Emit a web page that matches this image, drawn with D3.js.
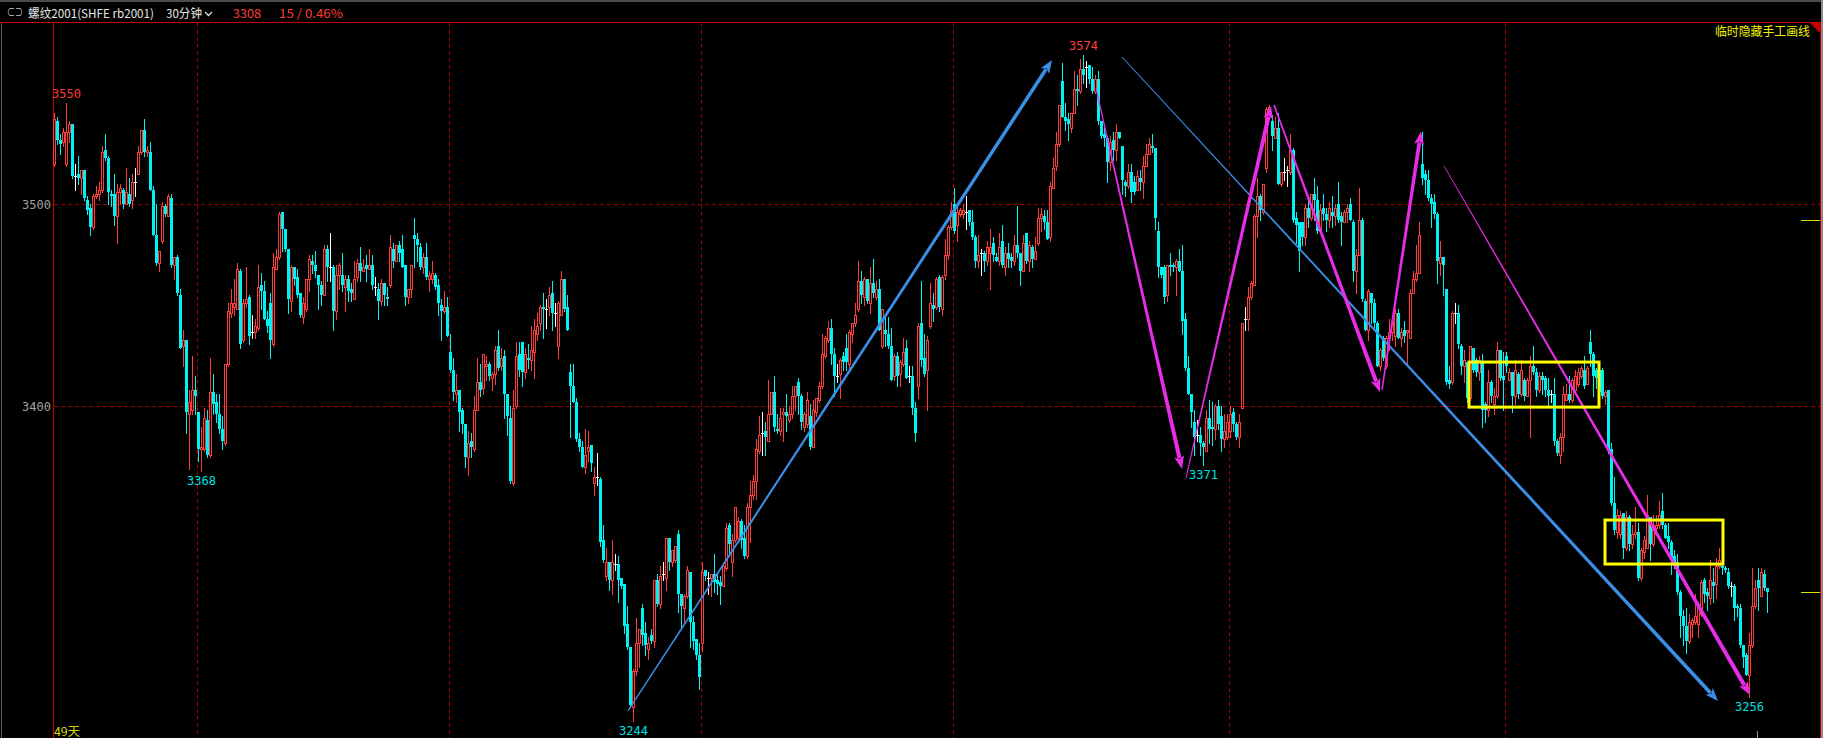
<!DOCTYPE html>
<html><head><meta charset="utf-8">
<script src="https://cdn.jsdelivr.net/npm/d3@7"></script>
<style>html,body{margin:0;padding:0;background:#000;overflow:hidden}</style>
</head><body>
<svg id="c" width="1823" height="738"></svg>
<script>
// ---- data: 30-minute bars, each [open, high, low, close], grouped by period ----
const week1 = [
[3520,3545,3519,3542],[3541,3543,3530,3532],[3532,3535,3525,3530],[3531,3538,3529,3536],[3520,3550,3519,3536],[3536,3541,3531,3540],
[3540,3540,3513,3514],[3514,3520,3507,3514],[3515,3524,3510,3513],[3513,3517,3505,3517],[3517,3517,3502,3503],[3502,3504,3495,3497],
[3498,3500,3485,3489],[3489,3505,3488,3504],[3504,3509,3503,3505],[3505,3511,3502,3507],[3507,3529,3506,3526],[3527,3535,3522,3523],
[3523,3524,3500,3506],[3505,3507,3499,3504],[3505,3515,3490,3494],[3494,3510,3481,3506],[3506,3510,3500,3508],[3507,3508,3498,3500],
[3500,3518,3500,3506],[3505,3513,3499,3500],[3502,3515,3498,3511],[3511,3518,3504,3511],[3515,3529,3515,3526],[3526,3537,3525,3537],
[3537,3542,3524,3526],[3526,3529,3524,3527],[3526,3531,3507,3507],[3507,3509,3485,3485],[3485,3500,3470,3471],[3471,3477,3467,3477],
[3482,3501,3481,3499],[3499,3500,3494,3495],[3494,3505,3494,3504],[3503,3505,3469,3470],[3470,3474,3463,3474],[3474,3475,3455,3456],
[3455,3458,3429,3429],[3430,3438,3420,3433],[3433,3433,3387,3397],[3396,3408,3369,3402],[3398,3425,3396,3408],[3408,3415,3396,3405]];
const week2 = [
[3397,3397,3373,3379],[3379,3390,3368,3380],[3379,3399,3378,3394],[3393,3398,3375,3376],[3376,3424,3375,3407],[3407,3416,3396,3401],
[3402,3406,3392,3396],[3396,3406,3387,3389],[3389,3395,3379,3383],[3382,3421,3381,3421],[3421,3451,3420,3447],[3446,3458,3444,3451],
[3449,3463,3445,3451],[3448,3471,3448,3468],[3467,3468,3429,3431],[3433,3453,3432,3451],[3451,3469,3449,3453],[3454,3455,3431,3435],
[3437,3445,3434,3437],[3437,3443,3434,3440],[3439,3470,3438,3459],[3460,3466,3448,3457],[3457,3462,3443,3443],[3443,3447,3437,3440],
[3451,3456,3424,3433],[3431,3476,3430,3469],[3468,3478,3468,3474],[3474,3496,3473,3495],[3496,3496,3477,3488],[3488,3488,3477,3478],
[3478,3478,3446,3453],[3452,3470,3447,3469],[3469,3469,3460,3463],[3464,3468,3454,3455],[3456,3456,3444,3445],[3444,3454,3441,3451],
[3448,3463,3447,3463],[3463,3475,3457,3473],[3472,3475,3466,3470],[3470,3477,3464,3467],[3465,3465,3448,3460],[3460,3462,3450,3455],
[3455,3480,3455,3478],[3478,3480,3462,3469],[3469,3486,3462,3469],[3469,3470,3438,3447],[3447,3470,3443,3465],[3465,3471,3458,3470],
[3465,3476,3457,3460],[3459,3465,3447,3463],[3463,3465,3452,3457],[3458,3461,3452,3456],[3453,3472,3453,3463],[3464,3473,3462,3471],
[3471,3479,3462,3467],[3467,3473,3467,3469],[3470,3475,3462,3468],[3468,3478,3468,3470],[3470,3475,3458,3460],[3459,3464,3455,3459],
[3458,3461,3443,3452],[3452,3463,3450,3461],[3461,3461,3450,3455],[3454,3459,3450,3453],[3460,3485,3459,3479],[3478,3481,3469,3472],
[3472,3480,3472,3480],[3480,3482,3472,3476],[3478,3485,3469,3469],[3470,3470,3450,3454],[3454,3458,3451,3458],[3458,3470,3454,3470],
[3485,3493,3469,3483],[3483,3486,3472,3480],[3479,3481,3468,3469],[3469,3476,3466,3474],[3474,3481,3463,3464],[3463,3467,3457,3465],
[3463,3472,3461,3466],[3465,3466,3458,3459],[3460,3463,3445,3451],[3450,3453,3433,3447],[3447,3457,3446,3449],[3449,3454,3435,3435]];
const week3 = [
[3427,3436,3417,3418],[3418,3424,3403,3407],[3406,3416,3402,3408],[3408,3408,3388,3397],[3398,3399,3387,3391],[3391,3391,3370,3375],
[3375,3388,3366,3382],[3383,3387,3375,3380],[3379,3405,3378,3398],[3398,3424,3398,3412],[3412,3421,3405,3408],[3409,3426,3406,3426],
[3420,3425,3413,3421],[3421,3422,3413,3415],[3414,3417,3408,3416],[3416,3430,3411,3428],[3430,3438,3418,3419],[3420,3429,3418,3424],
[3425,3428,3394,3406],[3406,3406,3386,3395],[3394,3400,3362,3363],[3362,3408,3361,3399],[3400,3432,3399,3425],[3426,3432,3415,3418],
[3432,3432,3410,3417],[3417,3429,3414,3426],[3424,3431,3419,3423],[3423,3440,3418,3428],[3427,3443,3414,3438],[3436,3446,3433,3440],
[3441,3450,3438,3449],[3449,3456,3434,3448],[3448,3453,3439,3448],[3449,3459,3445,3455],[3456,3462,3438,3446],[3446,3451,3440,3446],
[3430,3452,3424,3451],[3445,3467,3445,3463],[3463,3463,3447,3448],[3449,3455,3438,3438],[3417,3421,3385,3410],[3410,3421,3402,3402],
[3402,3404,3383,3384],[3384,3387,3378,3380],[3380,3383,3370,3370],[3370,3389,3367,3376],[3378,3388,3373,3380],[3381,3381,3368,3372],
[3362,3370,3356,3365],[3365,3377,3361,3365],[3364,3365,3331,3333],[3334,3341,3323,3324],[3316,3330,3314,3323],[3323,3323,3309,3314],
[3314,3334,3307,3323],[3322,3327,3319,3322],[3322,3326,3303,3314],[3315,3315,3310,3311],[3312,3312,3288,3291],[3292,3301,3280,3281],
[3281,3281,3251,3252],[3251,3270,3244,3269],[3269,3295,3267,3283],[3283,3290,3271,3290],[3300,3302,3282,3287],[3288,3293,3277,3282],
[3280,3286,3275,3283],[3287,3290,3283,3284],[3284,3314,3281,3314],[3314,3317,3301,3302],[3302,3321,3300,3316],[3317,3323,3314,3317],
[3315,3335,3309,3335],[3335,3335,3319,3323],[3323,3329,3321,3329],[3324,3331,3323,3331],[3337,3339,3298,3307],[3307,3307,3290,3301],
[3300,3307,3293,3306],[3306,3321,3305,3319],[3318,3318,3281,3293],[3293,3296,3280,3284],[3285,3285,3275,3277],[3277,3283,3260,3266]];
const week4 = [
[3283,3323,3279,3318],[3319,3319,3314,3316],[3315,3318,3307,3315],[3315,3317,3306,3317],[3317,3327,3308,3313],[3314,3317,3307,3312],
[3313,3316,3302,3311],[3311,3321,3311,3321],[3320,3342,3319,3340],[3341,3342,3326,3332],[3323,3337,3316,3334],[3334,3350,3333,3350],
[3335,3345,3333,3343],[3343,3344,3330,3334],[3335,3341,3325,3326],[3326,3352,3325,3350],[3350,3363,3333,3356],[3356,3366,3354,3363],
[3363,3384,3354,3379],[3378,3395,3377,3386],[3387,3397,3376,3387],[3388,3392,3376,3385],[3383,3413,3383,3396],[3396,3407,3396,3407],
[3407,3415,3388,3390],[3389,3396,3387,3388],[3388,3399,3386,3394],[3396,3399,3383,3397],[3397,3406,3388,3395],[3393,3400,3392,3396],
[3396,3410,3394,3405],[3405,3410,3398,3410],[3412,3414,3396,3405],[3405,3406,3389,3392],[3390,3397,3388,3396],[3391,3407,3390,3403],
[3395,3401,3379,3380],[3380,3403,3380,3398],[3397,3404,3395,3404],[3403,3412,3402,3410],[3410,3436,3409,3426],[3425,3435,3424,3434],
[3433,3442,3432,3439],[3439,3443,3421,3426],[3426,3429,3405,3415],[3415,3421,3412,3415],[3416,3424,3404,3423],[3425,3427,3418,3422],
[3429,3436,3418,3422],[3421,3438,3417,3437],[3436,3441,3432,3441],[3441,3451,3440,3445],[3448,3472,3447,3462],[3462,3467,3451,3455],
[3454,3464,3450,3463],[3463,3463,3451,3452],[3451,3469,3446,3461],[3461,3473,3454,3456],[3454,3462,3453,3458],[3458,3463,3438,3438],
[3430,3448,3429,3448],[3438,3444,3430,3436],[3436,3444,3429,3430],[3430,3439,3413,3413],[3415,3426,3413,3425],[3425,3427,3410,3415],
[3416,3423,3410,3422],[3421,3434,3420,3427],[3429,3433,3414,3414],[3415,3420,3412,3415],[3415,3420,3396,3399],[3399,3402,3383,3387],
[3410,3441,3404,3440],[3441,3462,3420,3423],[3424,3436,3415,3416],[3418,3435,3398,3433],[3440,3461,3439,3451],[3450,3456,3442,3448],
[3449,3464,3448,3463],[3464,3465,3447,3449],[3448,3465,3445,3464],[3465,3483,3463,3475],[3475,3490,3473,3489],[3489,3501,3488,3497]];
const week5 = [
[3500,3508,3486,3487],[3490,3499,3482,3496],[3495,3498,3494,3497],[3495,3500,3493,3497],[3496,3504,3488,3496],[3497,3497,3490,3491],
[3491,3497,3483,3484],[3484,3485,3469,3472],[3472,3485,3469,3475],[3476,3478,3465,3476],[3476,3477,3467,3472],[3472,3482,3470,3479],
[3476,3488,3458,3479],[3481,3484,3472,3475],[3474,3476,3472,3472],[3472,3486,3470,3479],[3482,3490,3469,3470],[3469,3479,3465,3476],
[3476,3481,3469,3473],[3474,3476,3469,3472],[3472,3485,3470,3480],[3480,3499,3474,3476],[3476,3476,3460,3467],[3467,3485,3467,3481],
[3486,3486,3471,3472],[3472,3482,3467,3480],[3479,3480,3469,3473],[3473,3484,3473,3477],[3481,3498,3480,3493],[3493,3498,3487,3495],
[3494,3497,3488,3491],[3491,3497,3483,3483],[3484,3511,3482,3509],[3508,3523,3508,3518],[3519,3536,3517,3530],[3530,3549,3529,3549],
[3561,3570,3543,3543],[3543,3550,3537,3541],[3542,3545,3532,3540],[3538,3545,3536,3545],[3545,3566,3545,3557],[3557,3564,3549,3556],
[3556,3572,3555,3567],[3567,3574,3560,3564],[3568,3571,3558,3568],[3569,3569,3560,3562],[3562,3568,3555,3556],[3556,3564,3555,3562],
[3562,3566,3540,3541],[3541,3541,3533,3534],[3535,3540,3529,3533],[3533,3534,3511,3521],[3521,3534,3517,3531],[3532,3536,3522,3527],
[3527,3540,3522,3536],[3536,3536,3533,3533],[3529,3529,3505,3512],[3511,3512,3504,3509],[3509,3520,3508,3516],[3516,3520,3501,3506],
[3511,3514,3505,3506],[3507,3517,3507,3514],[3513,3517,3507,3511],[3511,3524,3503,3519],[3519,3530,3519,3525],[3525,3533,3525,3530],
[3529,3535,3526,3528],[3528,3528,3488,3493],[3487,3491,3464,3469],[3469,3469,3464,3465],[3469,3470,3451,3454],[3455,3470,3452,3470],
[3470,3476,3465,3469],[3470,3471,3467,3469],[3469,3473,3455,3472],[3472,3478,3467,3467],[3467,3480,3436,3442],[3443,3446,3418,3419],
[3419,3425,3406,3406],[3406,3406,3390,3397],[3392,3398,3376,3385],[3386,3393,3383,3386],[3386,3390,3376,3382],[3382,3383,3371,3380],
[3378,3398,3378,3394],[3394,3403,3382,3389],[3390,3402,3381,3389],[3389,3401,3384,3400],[3400,3403,3389,3391],[3395,3400,3378,3384],
[3384,3396,3380,3388],[3385,3396,3384,3392]];
const week6 = [
[3388,3400,3385,3396],[3397,3399,3388,3391],[3391,3392,3384,3385],[3385,3396,3380,3392],[3399,3441,3399,3441],[3443,3449,3438,3443],
[3443,3459,3438,3454],[3454,3462,3453,3461],[3460,3495,3460,3494],[3494,3513,3484,3504],[3504,3505,3492,3497],[3496,3510,3495,3510],
[3518,3548,3516,3547],[3546,3549,3545,3548],[3541,3544,3527,3534],[3533,3543,3533,3538],[3538,3545,3510,3510],[3510,3516,3509,3516],
[3516,3523,3512,3516],[3517,3519,3509,3517],[3516,3535,3515,3527],[3527,3528,3491,3492],[3493,3496,3481,3490],[3491,3491,3467,3477],
[3491,3491,3480,3484],[3484,3500,3480,3498],[3498,3503,3489,3493],[3493,3505,3492,3505],[3505,3513,3492,3502],[3502,3509,3486,3487],
[3487,3500,3486,3497],[3498,3505,3492,3495],[3495,3498,3487,3492],[3492,3501,3489,3498],[3496,3504,3489,3494],[3494,3500,3490,3498],
[3500,3511,3491,3492],[3494,3496,3480,3491],[3491,3497,3491,3496],[3496,3500,3491,3498],[3500,3503,3492,3492],[3491,3492,3462,3467],
[3467,3478,3456,3475],[3475,3508,3475,3492],[3492,3493,3452,3453],[3452,3453,3438,3438],[3438,3458,3433,3457],[3456,3456,3441,3451],
[3451,3453,3438,3441],[3441,3442,3420,3420],[3420,3429,3418,3428],[3434,3435,3423,3424],[3420,3435,3419,3434],[3434,3443,3428,3437],
[3437,3443,3433,3442],[3435,3448,3430,3446],[3446,3448,3434,3434],[3434,3439,3430,3437],[3438,3442,3432,3435],[3437,3438,3421,3438],
[3434,3458,3434,3456],[3456,3467,3456,3463],[3463,3480,3462,3466],[3466,3491,3466,3485],[3520,3536,3510,3513],[3515,3517,3505,3512],
[3512,3517,3502,3503],[3503,3505,3489,3500],[3501,3505,3493,3495],[3495,3496,3461,3472],[3471,3482,3465,3474],[3474,3474,3455,3470],
[3458,3458,3411,3412],[3413,3420,3409,3411],[3412,3447,3411,3446],[3446,3451,3441,3446],[3446,3450,3429,3431],[3430,3431,3416,3420],
[3420,3428,3412,3423],[3422,3422,3402,3404],[3404,3430,3403,3430],[3429,3429,3417,3418],[3423,3424,3415,3417],[3417,3425,3413,3423],
[3422,3426,3390,3398],[3401,3402,3392,3398],[3398,3418,3395,3412],[3412,3413,3402,3405],[3401,3409,3396,3405],[3405,3432,3404,3428],
[3428,3428,3413,3414],[3415,3427,3398,3413]];
const week7 = [
[3425,3427,3417,3420],[3413,3419,3413,3417],[3417,3417,3397,3405],[3405,3423,3401,3418],[3416,3417,3404,3406],[3406,3423,3405,3418],
[3413,3414,3403,3405],[3405,3414,3405,3413],[3413,3425,3385,3420],[3420,3430,3416,3417],[3417,3419,3405,3408],[3408,3417,3407,3415],
[3415,3417,3406,3413],[3414,3415,3405,3408],[3408,3414,3400,3405],[3406,3408,3402,3406],[3406,3414,3381,3383],[3383,3384,3376,3377],
[3376,3387,3372,3385],[3385,3410,3378,3406],[3403,3411,3403,3406],[3406,3415,3402,3403],[3403,3414,3402,3413],[3408,3418,3406,3415],
[3411,3419,3410,3417],[3415,3420,3414,3419],[3418,3425,3409,3410],[3411,3420,3411,3419],[3432,3438,3420,3426],[3426,3427,3405,3415],
[3418,3419,3409,3414],[3418,3419,3405,3407],[3418,3419,3404,3405],[3405,3408,3401,3407],[3408,3408,3377,3378],[3379,3382,3351,3352],
[3352,3365,3337,3339],[3338,3349,3335,3346],[3337,3348,3335,3346],[3347,3347,3325,3330],[3330,3348,3329,3345],[3345,3346,3329,3332],
[3332,3341,3330,3337],[3337,3350,3335,3338],[3338,3342,3314,3315],[3315,3330,3314,3329],[3328,3336,3325,3334],[3330,3356,3330,3346],
[3345,3345,3324,3332],[3332,3346,3331,3341],[3340,3346,3339,3341],[3341,3353,3340,3346],[3348,3357,3340,3341],[3341,3342,3335,3335],
[3336,3342,3330,3333],[3333,3334,3317,3325],[3326,3329,3320,3322],[3323,3327,3307,3308],[3308,3309,3286,3296],[3296,3299,3282,3291],
[3291,3300,3278,3284],[3284,3297,3283,3293],[3292,3295,3286,3294],[3293,3307,3292,3296],[3292,3303,3286,3302],[3297,3314,3296,3313],
[3314,3315,3303,3307],[3308,3310,3299,3306],[3305,3324,3302,3314],[3313,3320,3303,3311],[3312,3325,3305,3321],[3321,3330,3320,3324],
[3321,3322,3317,3320],[3320,3321,3318,3319],[3318,3320,3310,3311],[3311,3313,3306,3311],[3311,3312,3294,3300],[3301,3302,3296,3300],
[3300,3302,3281,3282],[3282,3282,3271,3276],[3277,3278,3267,3267],[3267,3288,3256,3282],[3282,3320,3281,3301],[3301,3314,3300,3310],
[3314,3320,3299,3310],[3306,3320,3306,3318],[3317,3319,3309,3310],[3310,3310,3298,3308]];

const yTicks = [3400, 3500];
const periodStarts = [48, 132, 216, 300, 392, 484];         // first bar of each new period
const extremeBars = [[4,'high'],[343,'high'],[49,'low'],[193,'low'],[383,'low'],[565,'low']];
const titleParts = ['螺纹2001(SHFE rb2001)', '30分钟', '3308', '15 / 0.46%'];
const sideNote = '临时隐藏手工画线';
const spanLabel = '49天';
// hand-drawn annotations in (bar index, price) space
const blueArrows = [
  {from:[191.33,3249.2], to:[332.67,3571.4], w:[1.3,3.6]},
  {from:[356.0,3572.9],  to:[554.67,3254.1], w:[0.9,3.8]}
];
const pinkArrows = [
  {from:[347.33,3557.5], to:[376.0,3368.9],  w:[1.0,4.2]},
  {from:[377.33,3364.5], to:[405.67,3548.7], w:[1.0,4.2]},
  {from:[406.67,3549.2], to:[442.0,3407.1],  w:[1.6,4.2]},
  {from:[442.67,3408.1], to:[455.67,3536.0], w:[1.5,3.8]},
  {from:[463.33,3519.0], to:[565.33,3257.1], w:[0.8,4.2]}
];
const boxes = [
  {from:[471.67,3421.9], to:[515.0,3399.6]},
  {from:[517.0,3343.7],  to:[556.33,3321.9]}
];

// ---- drawing ----
const W = 1823, H = 738;
const svg = d3.select('#c');
svg.append('rect').attr('width', W).attr('height', H).attr('fill', '#000');

const bars = [week1, week2, week3, week4, week5, week6, week7].flat()
  .map((d, i) => ({i, o: d[0], h: d[1], l: d[2], c: d[3]}));

const x = d3.scaleLinear().domain([0, bars.length - 1]).range([54, 54 + 3 * (bars.length - 1)]);
const y = d3.scaleLinear().domain([3400, 3500]).range([406.3, 204.3]);
const px = v => Math.round(x(v));
const py = v => Math.round(y(v));

const GRID = '#9a0000', AXIS = '#c80000';
const UP = '#ff3c3c', DN = '#00f2f2', EQ = '#ffffff';

// frame
svg.append('rect').attr('x', 0).attr('y', 0).attr('width', W).attr('height', 2).attr('fill', '#4a4a4a');
svg.append('line').attr('x1', 0).attr('x2', W).attr('y1', 22.5).attr('y2', 22.5).attr('stroke', AXIS);
svg.append('line').attr('x1', 1.5).attr('x2', 1.5).attr('y1', 23).attr('y2', H).attr('stroke', '#5a5a5a');
svg.append('line').attr('x1', 53.5).attr('x2', 53.5).attr('y1', 23).attr('y2', H).attr('stroke', AXIS);
svg.append('line').attr('x1', 1820.5).attr('x2', 1820.5).attr('y1', 23).attr('y2', H).attr('stroke', AXIS);
svg.append('rect').attr('x', 1821).attr('y', 0).attr('width', 2).attr('height', H).attr('fill', '#8a8a8a');
svg.append('polygon').attr('points', '1810,23 1820,23 1820,33').attr('fill', AXIS);

// grid
svg.append('g').selectAll('line').data(yTicks).join('line')
  .attr('x1', 54).attr('x2', 1820).attr('y1', d => py(d) + 0.5).attr('y2', d => py(d) + 0.5)
  .attr('stroke', GRID).attr('stroke-dasharray', '4,3');
svg.append('g').selectAll('line').data(periodStarts).join('line')
  .attr('x1', d => Math.round(x(d) - 1.5) + 0.5).attr('x2', d => Math.round(x(d) - 1.5) + 0.5)
  .attr('y1', 23).attr('y2', H)
  .attr('stroke', GRID).attr('stroke-dasharray', '4,3');

// y axis labels
svg.append('g').selectAll('text').data(yTicks).join('text')
  .attr('x', 51).attr('y', d => py(d) + 4.5).attr('text-anchor', 'end')
  .attr('fill', '#a0a0a0').attr('font-family', 'DejaVu Sans Mono, monospace').attr('font-size', 12)
  .text(d => d);

// candles
const cg = svg.append('g');
cg.selectAll('g').data(bars).join('g').each(function (d) {
  const s = d3.select(this);
  const cx = px(d.i);
  const yh = py(d.h), yl = py(d.l), yo = py(d.o), yc = py(d.c);
  const top = Math.min(yo, yc), bot = Math.max(yo, yc);
  const col = d.c > d.o ? UP : (d.c < d.o ? DN : EQ);
  const wick = (a, b) => { if (b > a) s.append('line').attr('x1', cx + 0.5).attr('x2', cx + 0.5).attr('y1', a).attr('y2', b).attr('stroke', col); };
  if (d.c > d.o) {
    wick(yh, top); wick(bot + 1, yl + 1);
    if (bot - top >= 2) {
      s.append('rect').attr('x', cx - 0.5).attr('y', top + 0.5).attr('width', 2).attr('height', bot - top)
        .attr('fill', 'none').attr('stroke', col);
    } else {
      s.append('rect').attr('x', cx - 1).attr('y', top).attr('width', 3).attr('height', bot - top + 1).attr('fill', col);
    }
  } else if (d.c < d.o) {
    wick(yh, yl + 1);
    s.append('rect').attr('x', cx - 1).attr('y', top).attr('width', 3).attr('height', Math.max(bot - top, 1)).attr('fill', col);
  } else {
    wick(yh, yl + 1);
    s.append('rect').attr('x', cx - 1).attr('y', top).attr('width', 3).attr('height', 1).attr('fill', col);
  }
});

// extreme labels
svg.append('g').selectAll('text').data(extremeBars).join('text')
  .attr('x', d => px(d[0]) + 0.5)
  .attr('y', d => d[1] === 'high' ? py(bars[d[0]].h) - 5 : py(bars[d[0]].l) + 14)
  .attr('text-anchor', 'middle')
  .attr('fill', d => d[1] === 'high' ? '#ff3c3c' : '#00e0e0')
  .attr('font-family', 'DejaVu Sans Mono, monospace').attr('font-size', 12)
  .text(d => d[1] === 'high' ? bars[d[0]].h : bars[d[0]].l);

// annotations
function taper(a, color) {
  const x1 = x(a.from[0]), y1 = y(a.from[1]), x2 = x(a.to[0]), y2 = y(a.to[1]);
  const dx = x2 - x1, dy = y2 - y1, L = Math.hypot(dx, dy);
  const ux = dx / L, uy = dy / L, nx = -uy, ny = ux;
  const hl = 13, hw = 10;
  const bx = x2 - ux * hl, by = y2 - uy * hl;
  const w1 = a.w[0] / 2, w2 = a.w[1] / 2;
  const shaft = [[x1 + nx * w1, y1 + ny * w1], [bx + ux * 2 + nx * w2, by + uy * 2 + ny * w2],
                 [bx + ux * 2 - nx * w2, by + uy * 2 - ny * w2], [x1 - nx * w1, y1 - ny * w1]];
  svg.append('polygon').attr('points', shaft.map(p => p.join(',')).join(' ')).attr('fill', color);
  const head = [[x2, y2], [bx + nx * hw / 2, by + ny * hw / 2], [bx + ux * 3, by + uy * 3], [bx - nx * hw / 2, by - ny * hw / 2]];
  svg.append('polygon').attr('points', head.map(p => p.join(',')).join(' ')).attr('fill', color);
}
blueArrows.forEach(a => taper(a, '#3a8fe8'));
pinkArrows.forEach(a => taper(a, '#e82ce8'));

svg.append('g').selectAll('rect').data(boxes).join('rect')
  .attr('x', d => x(d.from[0])).attr('y', d => y(d.from[1]))
  .attr('width', d => x(d.to[0]) - x(d.from[0])).attr('height', d => y(d.to[1]) - y(d.from[1]))
  .attr('fill', 'none').attr('stroke', '#ffff00').attr('stroke-width', 3);

// right-side price markers
const last = bars[bars.length - 1].c;
svg.append('line').attr('x1', 1801).attr('x2', 1820).attr('y1', py(last) + 0.5).attr('y2', py(last) + 0.5).attr('stroke', '#e0e000');
svg.append('line').attr('x1', 1801).attr('x2', 1820).attr('y1', py(3492) + 0.5).attr('y2', py(3492) + 0.5).attr('stroke', '#e0e000');
// small marker at bottom
svg.append('line').attr('x1', 1757.5).attr('x2', 1757.5).attr('y1', 731).attr('y2', H).attr('stroke', '#909090');

// header
const hf = "'Noto Sans CJK SC', sans-serif";
const hdr = svg.append('g').attr('font-family', hf).attr('font-size', 12);
hdr.append('text').attr('x', 7).attr('y', 17).attr('fill', '#c8c8c8').attr('textLength', 16).attr('lengthAdjust', 'spacingAndGlyphs').text('⊂⊃');
hdr.append('text').attr('x', 28).attr('y', 18).attr('fill', '#e6e6e6').attr('textLength', 126).attr('lengthAdjust', 'spacingAndGlyphs').text(titleParts[0]);
hdr.append('text').attr('x', 166).attr('y', 18).attr('fill', '#e6e6e6').attr('textLength', 36).attr('lengthAdjust', 'spacingAndGlyphs').text(titleParts[1]);
svg.append('polyline').attr('points', '205,12 208.5,15.5 212,12').attr('fill', 'none').attr('stroke', '#e6e6e6').attr('stroke-width', 1.3);
hdr.append('text').attr('x', 233).attr('y', 18).attr('fill', '#ff3c3c').attr('textLength', 28).attr('lengthAdjust', 'spacingAndGlyphs').text(titleParts[2]);
hdr.append('text').attr('x', 279).attr('y', 18).attr('fill', '#ff3c3c').attr('textLength', 64).attr('lengthAdjust', 'spacingAndGlyphs').text(titleParts[3]);

svg.append('text').attr('x', 1715).attr('y', 36).attr('fill', '#f0f000').attr('font-family', hf).attr('font-size', 12)
  .attr('textLength', 95).attr('lengthAdjust', 'spacingAndGlyphs').text(sideNote);
svg.append('text').attr('x', 54).attr('y', 736).attr('fill', '#d8d800').attr('font-family', hf).attr('font-size', 12)
  .attr('textLength', 26).attr('lengthAdjust', 'spacingAndGlyphs').text(spanLabel);
</script>
</body></html>
